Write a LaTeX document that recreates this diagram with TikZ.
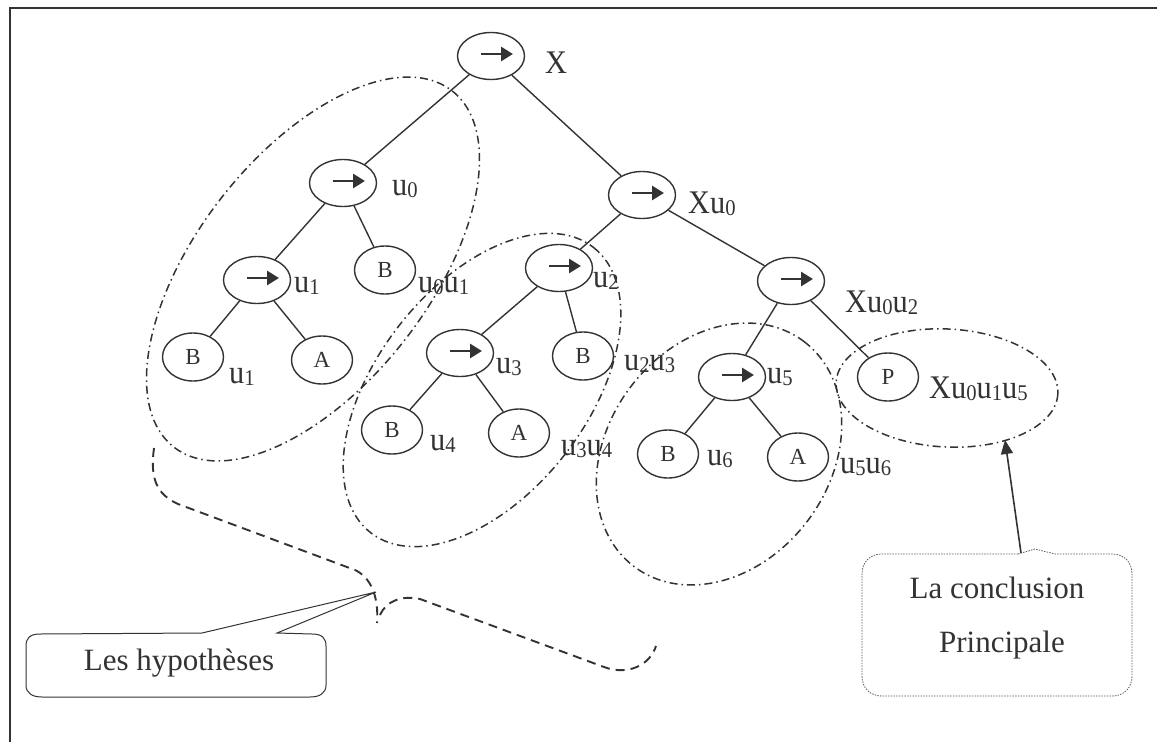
\documentclass[tikz,border=0pt]{standalone}
\usepackage{fontspec}
\setmainfont{Liberation Serif}
\newfontfamily\lblfont[FakeStretch=0.92]{Liberation Serif}
\usepackage{graphicx}
\usetikzlibrary{shapes.geometric,arrows.meta}
\definecolor{ink}{HTML}{333333}
\newcommand{\sbs}[1]{\raisebox{-0.08em}{\scalebox{0.68}{#1}}}
\tikzset{
  opnode/.style={ellipse, draw=ink, line width=1.4pt, minimum width=67pt, minimum height=47pt, inner sep=0pt},
  leafnode/.style={ellipse, draw=ink, line width=1.4pt, minimum width=61pt, minimum height=48pt, inner sep=0pt, font=\fontsize{23}{26}\selectfont, text=ink},
  lbl/.style={anchor=base west, inner sep=0pt, font=\lblfont\fontsize{33}{38}\selectfont, text=ink},
  edgeline/.style={draw=ink, line width=1.4pt},
  grp/.style={draw=ink, line width=1.5pt, dash pattern=on 8pt off 4pt on 1.5pt off 4pt},
  bracepath/.style={draw=ink, line width=1.9pt, dash pattern=on 9pt off 6pt},
  arrsym/.style={draw=ink, line width=2.8pt, -{Triangle[length=12pt,width=14pt]}},
  calltext/.style={font=\fontsize{31}{36}\selectfont, text=ink, inner sep=0pt, align=center}
}
\newcommand{\opsym}[1]{\draw[arrsym] ([xshift=-10pt,yshift=2pt]#1.center) -- ([xshift=22pt,yshift=2pt]#1.center);}
\begin{document}
\begin{tikzpicture}[x=1pt,y=-1pt]
\useasboundingbox (0,0) rectangle (1157,742);
\fill[white] (0,0) rectangle (1157,742);
% frame
\draw[ink, line width=2.8pt] (1157,8) -- (10,8) -- (10,742);

% nodes
\node[opnode] (root) at (491,56) {};
\node[opnode] (u0n) at (343,183) {};
\node[opnode] (xu0) at (642,195) {};
\node[opnode] (u1n) at (257,280) {};
\node[leafnode] (b1) at (385,270) {B};
\node[opnode] (u2n) at (559,268) {};
\node[opnode] (xu0u2) at (791,281) {};
\node[leafnode] (bl) at (193,357) {B};
\node[leafnode] (a1) at (322,360) {A};
\node[opnode] (u3n) at (460,353) {};
\node[leafnode] (b2) at (583,356) {B};
\node[opnode] (u5n) at (732,377) {};
\node[leafnode] (p) at (888,377) {P};
\node[leafnode] (b4) at (392,430) {B};
\node[leafnode] (a4) at (519,433) {A};
\node[leafnode] (b6) at (668,454) {B};
\node[leafnode] (a6) at (798,457) {A};

\foreach \n in {root,u0n,xu0,u1n,u2n,xu0u2,u3n,u5n} {\opsym{\n}}

% edges
\draw[edgeline] (root) -- (u0n);
\draw[edgeline] (root) -- (xu0);
\draw[edgeline] (u0n) -- (u1n);
\draw[edgeline] (u0n) -- (b1);
\draw[edgeline] (u1n) -- (bl);
\draw[edgeline] (u1n) -- (a1);
\draw[edgeline] (xu0) -- (u2n);
\draw[edgeline] (xu0) -- (xu0u2);
\draw[edgeline] (u2n) -- (u3n);
\draw[edgeline] (u2n) -- (b2);
\draw[edgeline] (u3n) -- (b4);
\draw[edgeline] (u3n) -- (a4);
\draw[edgeline] (xu0u2) -- (u5n);
\draw[edgeline] (xu0u2) -- (p);
\draw[edgeline] (u5n) -- (b6);
\draw[edgeline] (u5n) -- (a6);

% labels
\node[lbl] (lx) at (545,73) {X};
\node[lbl] (lu0) at (392,195) {u\sbs{0}};
\node[lbl] (lxu0) at (688,213) {Xu\sbs{0}};
\node[lbl] (lu1) at (294,292) {u\sbs{1}};
\node[lbl] (lu0u1) at (418,292) {u\sbs{0}u\sbs{1}};
\node[lbl] (lu1b) at (229,383) {u\sbs{1}};
\node[lbl] (lu2) at (593,287) {u\sbs{2}};
\node[lbl] (lxu0u2) at (845,312) {Xu\sbs{0}u\sbs{2}};
\node[lbl] (lu3) at (496,373) {u\sbs{3}};
\node[lbl] (lu2u3) at (624,370) {u\sbs{2}u\sbs{3}};
\node[lbl] (lu5) at (767,383) {u\sbs{5}};
\node[lbl] (lxu0u1u5) at (929,398) {Xu\sbs{0}u\sbs{1}u\sbs{5}};
\node[lbl] (lu4) at (430,450) {u\sbs{4}};
\node[lbl] (lu3u4) at (561,455) {u\sbs{3}u\sbs{4}};
\node[lbl] (lu6) at (707,465) {u\sbs{6}};
\node[lbl] (lu5u6) at (840,473) {u\sbs{5}u\sbs{6}};

% group ellipses
\draw[grp, rotate around={52:(313,269)}] (313,269) ellipse [x radius=226, y radius=116];
\draw[grp, rotate around={52:(482,390)}] (482,390) ellipse [x radius=181, y radius=105];
\draw[grp, rotate around={53:(719,454)}] (719,454) ellipse [x radius=141, y radius=111];
\draw[grp, rotate around={-3:(947,388)}] (947,388) ellipse [x radius=111, y radius=59];

% brace
\draw[bracepath] (154,448) .. controls (150,478) and (156,494) .. (178,504) -- (355,570) .. controls (370,577) and (379,595) .. (377,623);
\draw[bracepath] (380,615) .. controls (386,601) and (402,595) .. (420,599) -- (604,667) .. controls (628,676) and (650,665) .. (656,646);

% callout hypotheses
\coordinate (htip) at (376,592);
\draw[ink, line width=1pt, line join=miter] (202,633) -- (htip) -- (277,633) -- (312,634)
  .. controls (322,634) and (326,638) .. (326,646) -- (326,685)
  .. controls (326,693) and (320,697) .. (310,697) -- (42,697)
  .. controls (32,697) and (26,693) .. (26,685) -- (26,646)
  .. controls (26,638) and (30,634) .. (40,634) -- cycle;
\node[calltext] (hyp) at (179,663) {Les hypothèses};

% callout conclusion
\coordinate (cstart) at (1021,553);
\coordinate (e4b) at (1005,440);
\draw[ink!80, line width=0.8pt, dash pattern=on 1.5pt off 1.2pt] (1018,554) -- (1035,549) -- (1055,554) -- (1112,554)
  .. controls (1124,554) and (1132,562) .. (1132,574) -- (1132,676)
  .. controls (1132,688) and (1124,696) .. (1112,696) -- (882,696)
  .. controls (870,696) and (862,688) .. (862,676) -- (862,574)
  .. controls (862,562) and (870,554) .. (882,554) -- cycle;
\node[calltext] (conc1) at (997,588) {La conclusion};
\node[calltext] (conc2) at (1002,645) {Principale};
\draw[ink, line width=1.6pt, -{Triangle[length=14pt,width=12pt]}] (cstart) -- (e4b);
\end{tikzpicture}
\end{document}
